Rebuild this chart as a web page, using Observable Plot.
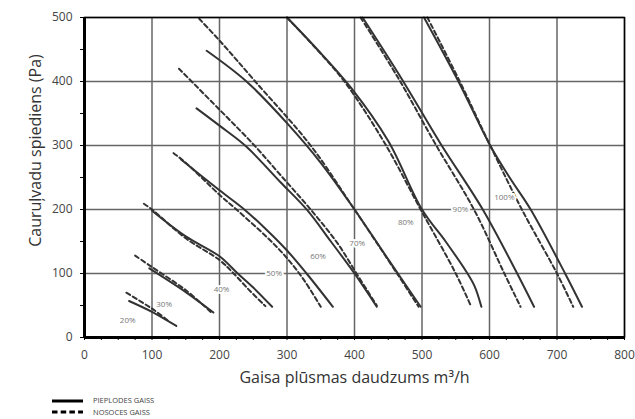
<!DOCTYPE html>
<html><head><meta charset="utf-8">
<script src="https://cdn.jsdelivr.net/npm/d3@7"></script>
<script src="https://cdn.jsdelivr.net/npm/@observablehq/plot@0.6"></script>
<style>
body{margin:0;background:#fff;font-family:"Open Sans",sans-serif;}
#legend{position:relative;height:27px;width:635px;}
#legend svg{position:absolute;left:0;top:0;}
</style></head><body><div id="chart"></div>
<div id="legend"><svg width="635" height="27">
<line x1="52" x2="83" y1="9" y2="9" stroke="#000" stroke-width="3"/>
<line x1="52" x2="83" y1="20" y2="20" stroke="#000" stroke-width="3" stroke-dasharray="5.5,3.2"/>
<text x="93" y="9" dominant-baseline="middle" font-size="7.5" fill="#444" font-family="Open Sans">PIEPLODES GAISS</text>
<text x="93" y="21" dominant-baseline="middle" font-size="7.5" fill="#444" font-family="Open Sans">NOSOCES GAISS</text>
</svg></div>
<script>
const pct = ["20%","30%","40%","50%","60%","70%","80%","90%","100%"];
const labelX = [64,118,203,281,346,404,476,557,622];
const labelY = [27,52,75,100,126,147,180,200,219];
const xTicks = [0,100,200,300,400,500,600,700,800];
const yTicks = [0,100,200,300,400,500];

// supply air (solid)
const s20 = [[66,57],[100,40],[136,18]];
const s30 = [[96,108],[150,71],[191,39]];
const s40 = [[100,198],[150,158],[200,127],[227,100],[250,78],[278,48]];
const s50 = [[143,278],[200,230],[238,199],[270,168],[300,136],[329,100],[368,48]];
const s60 = [[166,358],[200,331],[240,298],[290,243],[330,199],[365,150],[400,100],[433,48]];
const s70 = [[181,448],[240,400],[300,335],[350,273],[400,200],[450,122],[498,48]];
const s80 = [[300,500],[345,450],[395,390],[450,307],[500,200],[535,150],[565,104],[578,80],[588,48]];
const s90 = [[412,500],[470,404],[528,302],[590,200],[641,100],[666,48]];
const s100 = [[503,500],[554,400],[601,300],[631,248],[661,200],[712,100],[737,48]];

// exhaust air (dashed)
const e20 = [[62,70],[100,45],[123,27]];
const e30 = [[75,128],[100,110],[150,74],[187,40]];
const e40 = [[88,209],[100,200],[150,155],[200,121],[221,100],[245,73],[268,49]];
const e50 = [[132,288],[150,273],[200,223],[225,200],[270,157],[300,124],[325,90],[350,48]];
const e60 = [[140,420],[200,356],[250,302],[291,253],[335,200],[375,147],[403,100],[433,50]];
const e70 = [[170,498],[200,464],[253,400],[335,300],[400,200],[463,100],[495,48]];
const e80 = [[300,500],[340,455],[385,400],[444,305],[498,200],[550,100],[573,48]];
const e90 = [[409,500],[465,405],[520,302],[577,200],[622,100],[646,48]];
const e100 = [[508,500],[556,400],[601,300],[648,200],[700,100],[724,48]];

const supply = [s20,s30,s40,s50,s60,s70,s80,s90,s100];
const exhaust = [e20,e30,e40,e50,e60,e70,e80,e90,e100];
const toRows = list => list.flatMap((pts,i)=>pts.map(([x,y])=>({x,y,curve:pct[i]})));
const supplyRows = toRows(supply);
const exhaustRows = toRows(exhaust);
const labels = pct.map((t,i)=>({t,x:labelX[i],y:labelY[i]}));

const chart = Plot.plot({
  width:635, height:392,
  marginLeft:84, marginRight:11, marginTop:17, marginBottom:55,
  x:{domain:[0,800]}, y:{domain:[0,500]},
  style:{fontFamily:"Open Sans", color:"#444", background:"white"},
  marks:[
    Plot.gridX(xTicks,{stroke:"#666",strokeOpacity:1,strokeWidth:1.5}),
    Plot.gridY(yTicks,{stroke:"#666",strokeOpacity:1,strokeWidth:1.5}),
    Plot.axisX(d3.range(0,801,25),{tickSize:3,tickFormat:()=>"",stroke:"#000",label:null}),
    Plot.axisX(xTicks,{tickSize:0,tickPadding:13,fontSize:12,fill:"#444",label:null}),
    Plot.axisY(d3.range(0,501,50),{tickSize:4,tickFormat:()=>"",stroke:"#000",label:null}),
    Plot.axisY(yTicks,{tickSize:0,tickPadding:12,fontSize:12,fill:"#444",label:null}),
    Plot.line(supplyRows,{x:"x",y:"y",z:"curve",stroke:"#333",strokeWidth:2,curve:"catmull-rom"}),
    Plot.line(exhaustRows,{x:"x",y:"y",z:"curve",stroke:"#333",strokeWidth:2,strokeDasharray:"4.5,3",curve:"catmull-rom"}),
    Plot.text(labels,{x:"x",y:"y",text:"t",fontSize:8,fill:"#777",stroke:"white",strokeWidth:4}),
    Plot.frame({stroke:"#000",strokeWidth:1.5}),
    Plot.ruleX([0],{stroke:"#000",strokeWidth:3}),
    Plot.ruleY([0],{stroke:"#000",strokeWidth:3}),
    Plot.text(["Cauruļvadu spiediens (Pa)"],{frameAnchor:"left",textAnchor:"middle",rotate:-90,dx:-49,dy:-27,fontSize:16,fill:"#333"}),
    Plot.text(["Gaisa plūsmas daudzums m³/h"],{frameAnchor:"bottom",dy:45,fontSize:16,fill:"#333"})
  ]
});
document.getElementById("chart").appendChild(chart);
</script></body></html>
